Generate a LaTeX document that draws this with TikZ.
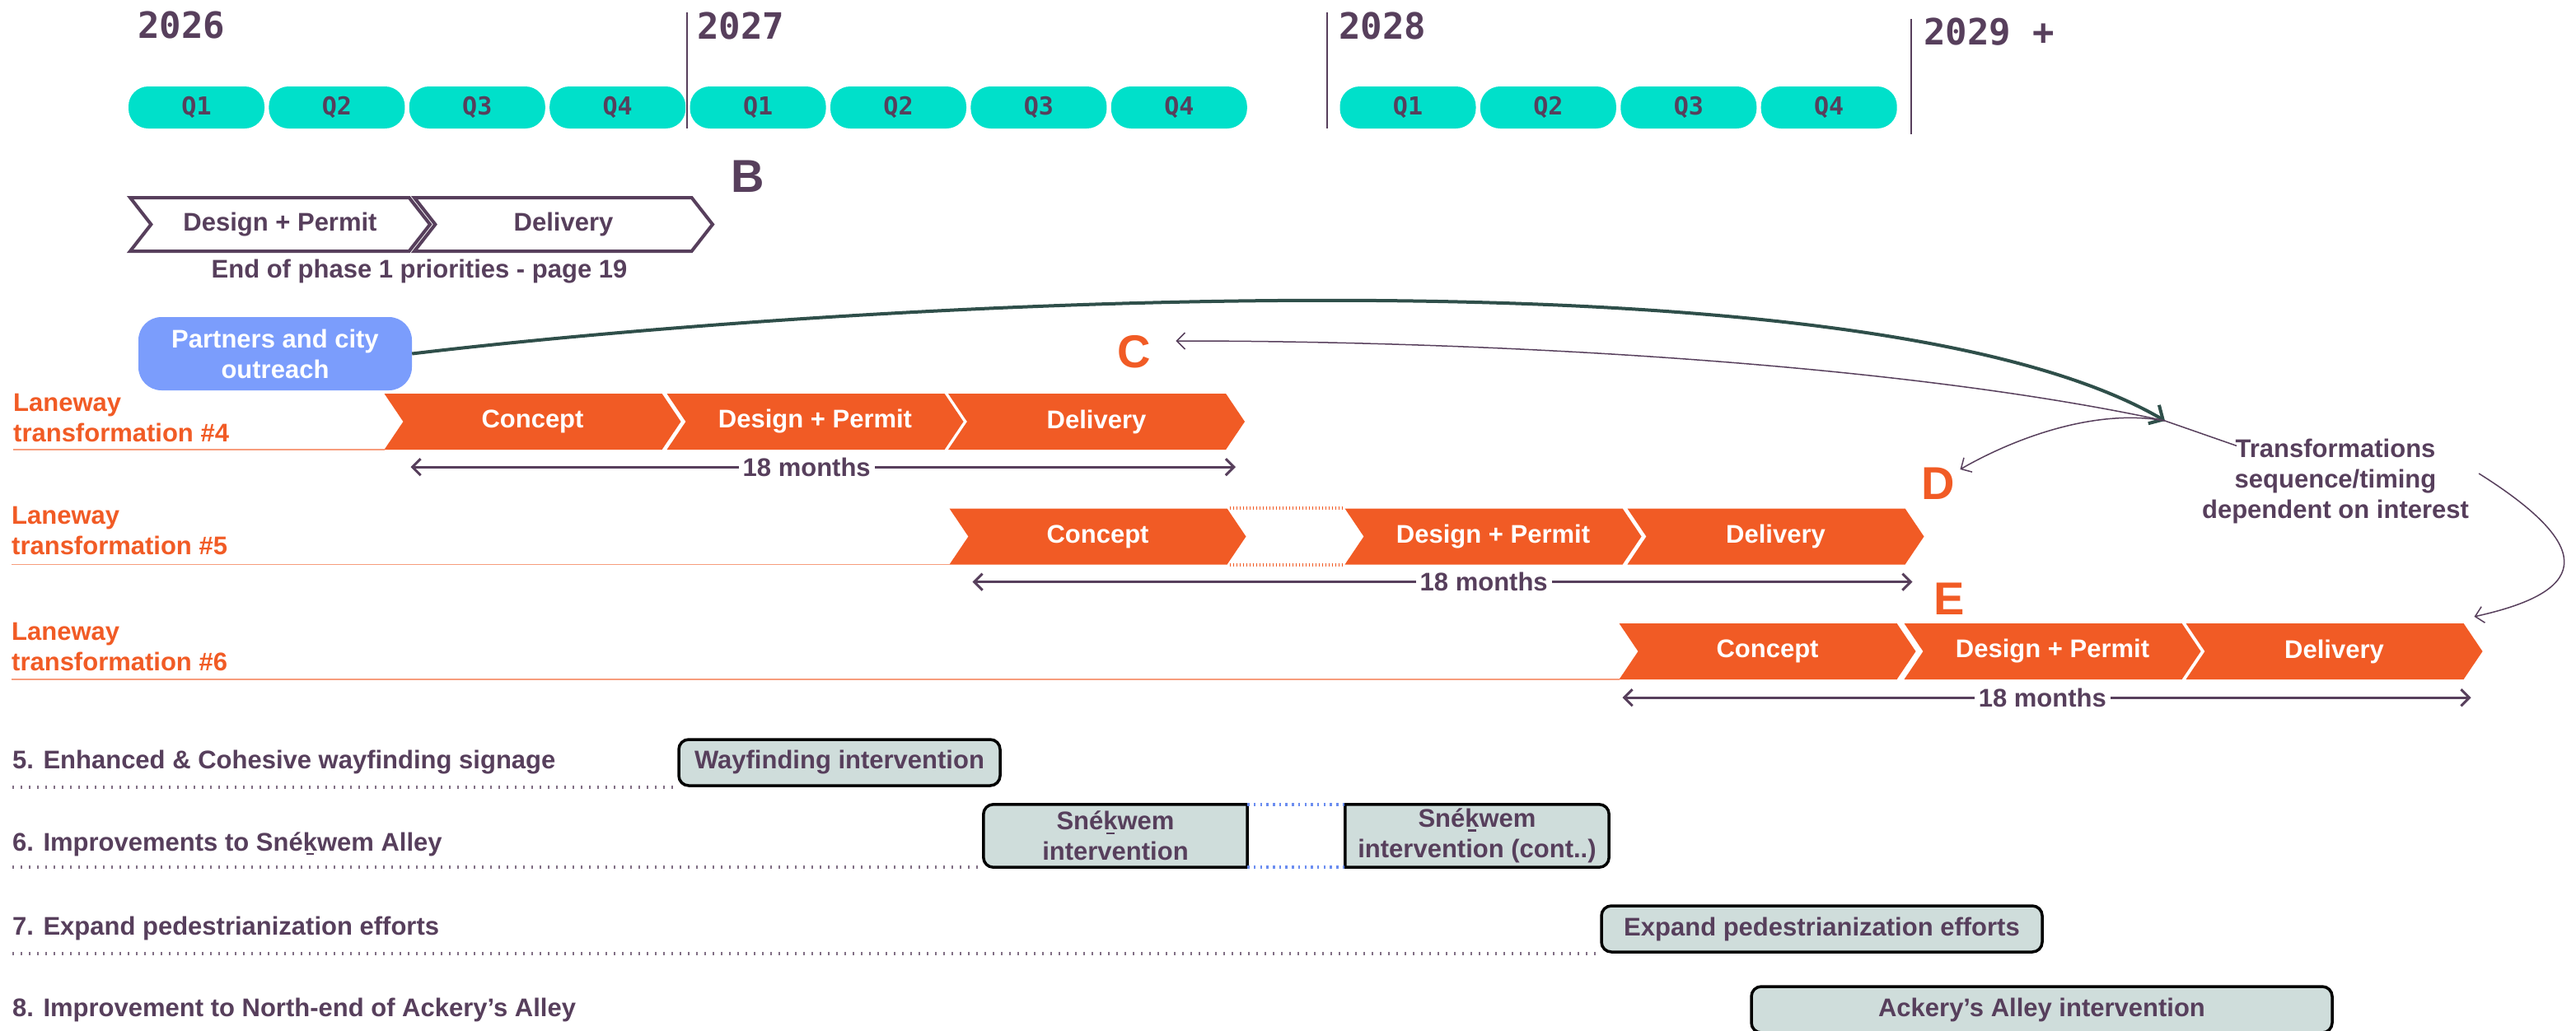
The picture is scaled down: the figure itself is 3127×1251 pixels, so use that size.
\documentclass[tikz,border=0pt]{standalone}
\usepackage{fontspec}
\setmainfont{Liberation Sans}
\newfontfamily\yearfont{DejaVu Sans Mono}
\usetikzlibrary{arrows.meta,positioning,shapes.symbols,backgrounds}

\definecolor{ink}{HTML}{573F5C}
\definecolor{quarter}{HTML}{00E0CA}
\definecolor{lane}{HTML}{F15B25}
\definecolor{outreachblue}{HTML}{7B9DFC}
\definecolor{boxgray}{HTML}{CFDDDB}
\definecolor{linkgreen}{HTML}{2F4F4A}
\definecolor{dotblue}{HTML}{6B8DF0}

\newcommand{\bodyfont}{\fontsize{31}{37}\selectfont\bfseries}
\newcommand{\yeartxt}{\yearfont\fontsize{44}{44}\selectfont\bfseries}
\newcommand{\qtxt}{\yearfont\fontsize{30}{30}\selectfont\bfseries}
\newcommand{\bigletter}{\fontsize{56}{56}\selectfont\bfseries}
\newcommand{\kbar}{\ooalign{k\cr\hidewidth\rule[-0.17em]{0.3em}{0.08em}\hidewidth\cr}}

\tikzset{
    year/.style={anchor=west, text=ink, font=\yeartxt, inner sep=0pt},
    pill/.style={
      rectangle,
      rounded corners=24pt,
      fill=quarter, text=ink, font=\qtxt,
      minimum width=165pt, minimum height=51pt,
      inner sep=0pt,
    },
    yearline/.style={draw=ink, line width=2pt},
    letter/.style={font=\bigletter, inner sep=0pt},
    oldphase/.style={
      shape=signal, signal from=west, signal to=east,
      signal pointer angle=104,
      draw=ink, line width=4pt, fill=white,
      text=ink, font=\bodyfont,
      minimum height=65pt, inner sep=0pt,
    },
    phase/.style={
      shape=signal, signal from=west, signal to=east,
      signal pointer angle=112,
      fill=lane, text=white, font=\bodyfont,
      minimum width=360pt, minimum height=68pt, inner sep=0pt,
    },
    outreach/.style={
      rectangle,
      rounded corners=28pt,
      fill=outreachblue, text=white, font=\bodyfont,
      align=center, minimum width=332pt, minimum height=89pt,
      inner sep=0pt,
    },
    lanelabel/.style={anchor=west, text=lane, font=\bodyfont, align=left, inner sep=0pt},
    rowlabel/.style={anchor=base west, text=ink, font=\bodyfont, inner sep=0pt},
    work/.style={
      rectangle,
      rounded corners=12pt,
      draw=black, line width=3.5pt, fill=boxgray,
      text=ink, font=\bodyfont, align=center,
      minimum height=56pt, inner sep=0pt,
    },
    bare/.style={text=ink, font=\bodyfont, align=center, inner sep=0pt},
    boxedge/.style={draw=black, line width=3.5pt, fill=boxgray},
    monthspan/.style={
      {Straight Barb[length=10pt,width=20pt]}-{Straight Barb[length=10pt,width=20pt]},
      draw=ink, line width=3pt,
    },
    monthtag/.style={fill=white, text=ink, font=\bodyfont, inner xsep=5pt, inner ysep=0pt},
    laneline/.style={draw=lane!60, line width=1.5pt},
    rowdots/.style={draw=ink!75, line width=4pt, dash pattern=on 1.5pt off 8.5pt},
    gapdots/.style={draw=lane, line width=4pt, dash pattern=on 1.5pt off 2.5pt},
    bluedots/.style={draw=dotblue, line width=3.5pt, dash pattern=on 2.5pt off 5.2pt},
    greenlink/.style={draw=linkgreen, line width=4pt, -{Straight Barb[length=13pt,width=26pt]}},
    thinlink/.style={draw=ink, line width=1.5pt, -{Straight Barb[length=10pt,width=20pt]}},
}

\begin{document}
\begin{tikzpicture}[x=1pt, y=-1pt]
    \useasboundingbox (0,0) rectangle (3127,1251);

    % years and quarters
    \node[year] (y26) at (167,31) {2026};
    \node[year] (y27) at (846,31) {2027};
    \node[year] (y28) at (1625,31) {2028};
    \node[year] (y29) at (2335,39) {2029 +};

    \node[pill] (q1a) at (238.5,130.5) {Q1};
    \node[pill, right=5pt of q1a] (q2a) {Q2};
    \node[pill, right=5pt of q2a] (q3a) {Q3};
    \node[pill, right=5pt of q3a] (q4a) {Q4};
    \node[pill, right=5pt of q4a] (q1b) {Q1};
    \node[pill, right=5pt of q1b] (q2b) {Q2};
    \node[pill, right=5pt of q2b] (q3b) {Q3};
    \node[pill, right=5pt of q3b] (q4b) {Q4};
    \node[pill] (q1c) at (1709,130.5) {Q1};
    \node[pill, right=5pt of q1c] (q2c) {Q2};
    \node[pill, right=5pt of q2c] (q3c) {Q3};
    \node[pill, right=5pt of q3c] (q4c) {Q4};

    \draw[yearline] (834,15) -- (834,156);
    \draw[yearline] (1611,15) -- (1611,156);
    \draw[yearline] (2320,23) -- (2320,163);

    % phase B
    \node[letter, text=ink] (B) at (908,214.5) {B};
    \node[oldphase, minimum width=364pt] (bdesign) at (340,272.5) {Design + Permit};
    \node[oldphase, minimum width=362pt] (bdelivery) at (684,272.5) {Delivery};
    \node[bare] (bnote) at (509,330) {End of phase 1 priorities - page 19};

    \node[outreach] (partners) at (334,429.5) {Partners and city\\outreach};

    % laneway transformations
    \node[letter, text=lane] (C) at (1377,427) {C};
    \node[lanelabel] (lane4) at (16,507) {Laneway\\transformation \#4};
    \node[phase] (c4) at (646.5,512) {Concept};
    \node[phase] (dp4) at (989.5,512) {Design + Permit};
    \node[phase] (del4) at (1331,512) {Delivery};

    \node[letter, text=lane] (D) at (2353,587) {D};
    \node[lanelabel] (lane5) at (14,644) {Laneway\\transformation \#5};
    \node[phase] (c5) at (1332.5,651.5) {Concept};
    \node[phase] (dp5) at (1812.5,651.5) {Design + Permit};
    \node[phase] (del5) at (2155.5,651.5) {Delivery};

    \node[letter, text=lane] (E) at (2366,727) {E};
    \node[lanelabel] (lane6) at (14,785) {Laneway\\transformation \#6};
    \node[phase] (c6) at (2145.5,791) {Concept};
    \node[phase] (dp6) at (2491.5,791) {Design + Permit};
    \node[phase] (del6) at (2833.5,791) {Delivery};

    \draw[laneline] (lane4.west |- c4.south) -- ([xshift=-180pt]c4.south);
    \draw[laneline] (lane5.west |- c5.south) -- ([xshift=-180pt]c5.south);
    \draw[laneline] (lane6.west |- c6.south) -- ([xshift=-180pt]c6.south);

    \draw[gapdots] ([xshift=160pt]c5.north) -- ([xshift=-180pt]dp5.north);
    \draw[gapdots] ([xshift=160pt]c5.south) -- ([xshift=-180pt]dp5.south);

    \draw[monthspan] ([xshift=-148pt,yshift=-21pt]c4.south) -- ([xshift=169pt,yshift=-21pt]del4.south)
      node[monthtag, pos=0.48] (m4) {18 months};
    \draw[monthspan] ([xshift=-152pt,yshift=-21pt]c5.south) -- ([xshift=166pt,yshift=-21pt]del5.south)
      node[monthtag, pos=0.544] (m5) {18 months};
    \draw[monthspan] ([xshift=-176pt,yshift=-22pt]c6.south) -- ([xshift=166pt,yshift=-22pt]del6.south)
      node[monthtag, pos=0.495] (m6) {18 months};

    \node[bare] (trans) at (2835,584) {Transformations\\sequence/timing\\dependent on interest};
    \coordinate (hub) at (2628,511);

    \draw[draw=ink, line width=1.5pt] ([xshift=-120pt,yshift=-9pt]trans.north) -- (hub);
    \draw[greenlink] (partners.east) .. controls (1000,370) and (2250,290) .. (hub);
    \draw[thinlink] (hub) .. controls (2300,440) and (1800,414) .. ([xshift=30pt,yshift=13pt]C.east);
    \draw[thinlink] (hub) .. controls (2540,495) and (2440,535) .. ([xshift=6pt,yshift=17pt]D.east);
    \draw[thinlink] ([xshift=12pt,yshift=9pt]trans.east) .. controls (3160,670) and (3135,720)
      .. ([xshift=170pt,yshift=8pt]del6.north);

    % streetscape rows
    \node[rowlabel] (row5) at (15,933) {5. Enhanced \& Cohesive wayfinding signage};
    \node[rowlabel] (row6) at (15,1033) {6. Improvements to Sné\kbar wem Alley};
    \node[rowlabel] (row7) at (15,1135) {7. Expand pedestrianization efforts};
    \node[rowlabel] (row8) at (15,1234) {8. Improvement to North-end of Ackery’s Alley};

    \node[work, minimum width=390pt] (way) at (1019,926) {Wayfinding intervention};
    \node[bare, minimum width=320pt, minimum height=76pt] (snek1) at (1354,1015) {Sné\kbar wem\\intervention};
    \node[bare, minimum width=320pt, minimum height=76pt] (snek2) at (1793,1015) {Sné\kbar wem\\intervention (cont..)};
    \node[work, minimum width=535pt] (ped) at (2211.5,1128) {Expand pedestrianization efforts};
    \node[work, minimum width=705pt] (ack) at (2478.5,1226) {Ackery’s Alley intervention};

    \begin{scope}[on background layer]
      \draw[boxedge] (snek1.north) [rounded corners=12pt] -- (snek1.north west) -- (snek1.south west)
        -- (snek1.south) [sharp corners] -- (snek1.south east) -- (snek1.north east) -- cycle;
      \draw[boxedge] (snek2.north) [rounded corners=12pt] -- (snek2.north east) -- (snek2.south east)
        -- (snek2.south) [sharp corners] -- (snek2.south west) -- (snek2.north west) -- cycle;
    \end{scope}

    \draw[rowdots] (row5.west |- way.south) -- (way.south west);
    \draw[rowdots] (row6.west |- snek1.south) -- (snek1.south west);
    \draw[rowdots] (row7.west |- ped.south) -- (ped.south west);
    \draw[bluedots] (snek1.north east) -- (snek2.north west);
    \draw[bluedots] (snek1.south east) -- (snek2.south west);

\end{tikzpicture}
\end{document}
